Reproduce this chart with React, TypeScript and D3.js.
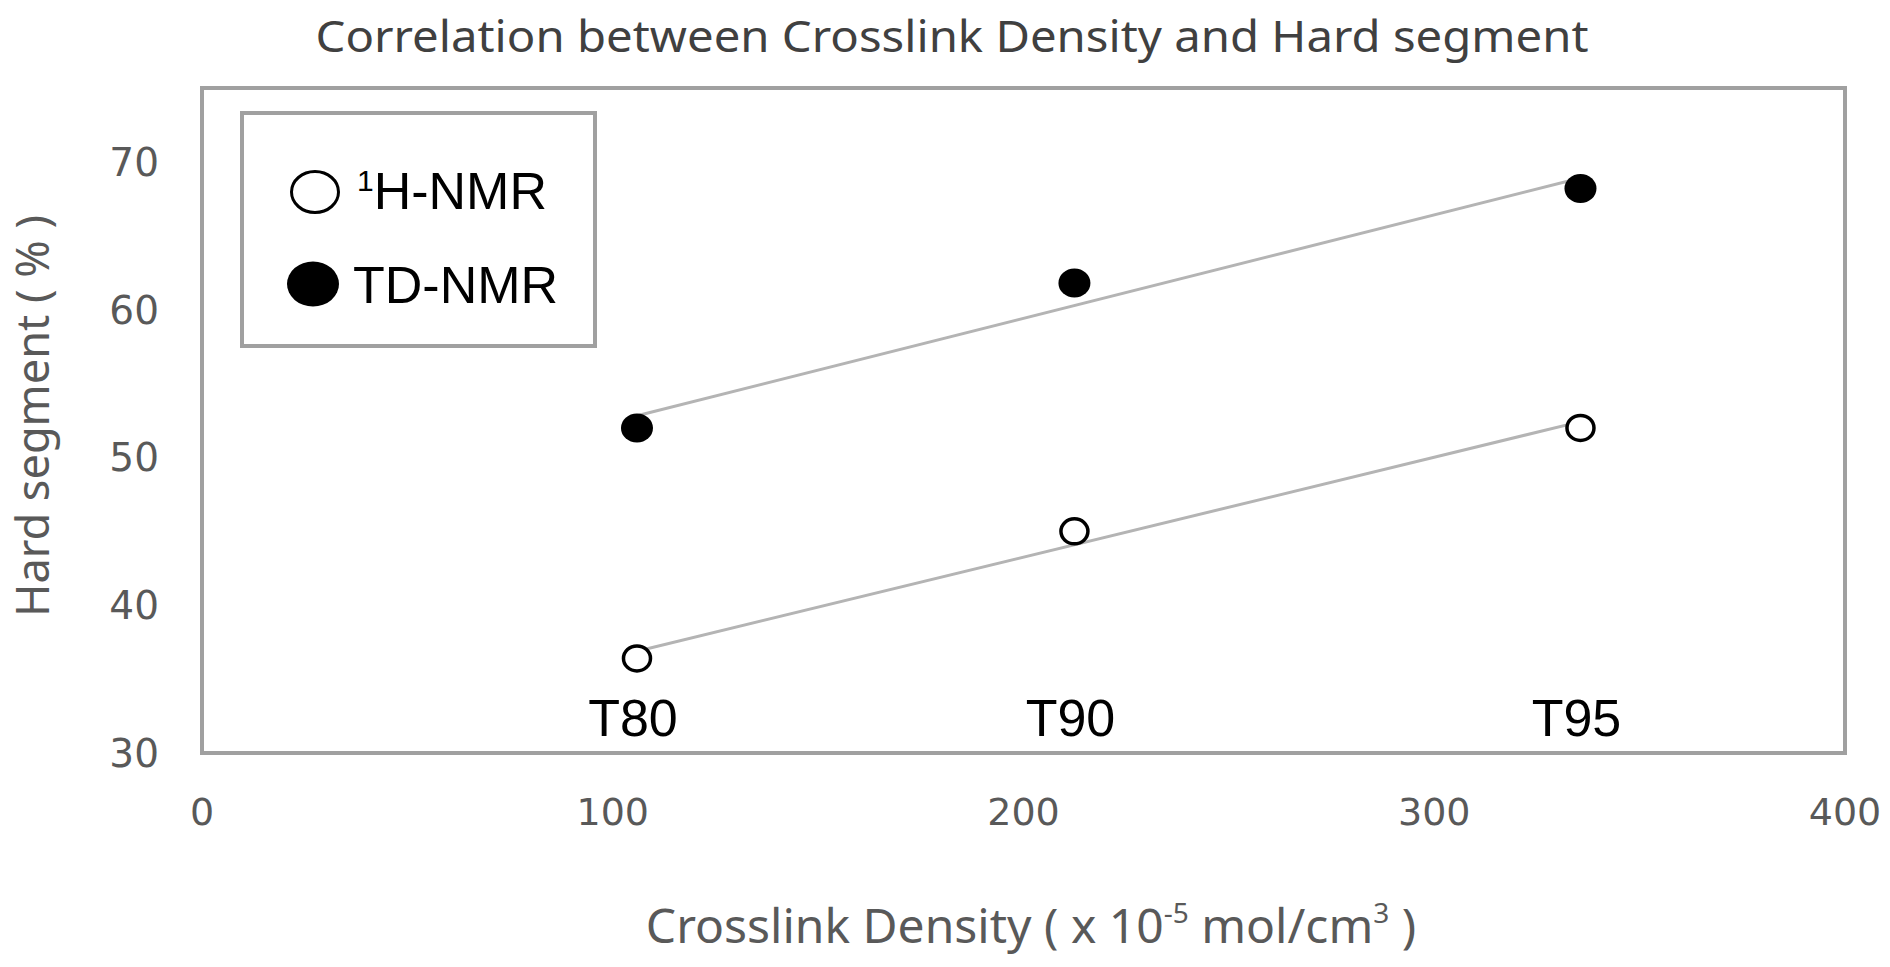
import React from "react";
import * as d3 from "d3";

const W = 1890;
const H = 967;

const titleText = "Correlation between Crosslink Density and Hard segment";
const sampleLabels = ["T80", "T90", "T95"];
const crosslinkDensity = [105.9, 212.4, 335.6];
const hNmr = [36.4, 45.0, 52.0];
const tdNmr = [52.0, 61.8, 68.2];
const xTicks = [0, 100, 200, 300, 400];
const yTicks = [30, 40, 50, 60, 70];
const xDomain: [number, number] = [0, 400];
const yDomain: [number, number] = [30, 75];

function fit(xs: number[], ys: number[]) {
  const mx = d3.mean(xs) as number;
  const my = d3.mean(ys) as number;
  const sxy = d3.sum(xs, (x, i) => (x - mx) * (ys[i] - my));
  const sxx = d3.sum(xs, (x) => (x - mx) * (x - mx));
  const b = sxy / sxx;
  const a = my - b * mx;
  return (x: number) => a + b * x;
}

export default function App() {
  const left = 202;
  const right = 1845;
  const top = 88;
  const bottom = 753;
  const x = d3.scaleLinear().domain(xDomain).range([left, right]);
  const y = d3.scaleLinear().domain(yDomain).range([bottom, top]);

  const series = [
    { name: "H", values: hNmr, filled: false },
    { name: "TD", values: tdNmr, filled: true },
  ];

  const boxStroke = "#a0a0a0";
  const tickFont = "'DejaVu Sans', sans-serif";
  const labelFont = "'Noto Sans', sans-serif";
  const xExt = d3.extent(crosslinkDensity) as [number, number];

  return (
    <svg
      width={W}
      height={H}
      style={{ position: "absolute", left: 0, top: 0, background: "#fff" }}
    >
      <rect x={0} y={0} width={W} height={H} fill="#fff" />
      <text
        x={952}
        y={52}
        textAnchor="middle"
        fontFamily={labelFont}
        fontSize={43}
        fill="#404040"
        textLength={1273}
        lengthAdjust="spacingAndGlyphs"
      >
        {titleText}
      </text>

      {/* plot box */}
      <rect
        x={left}
        y={top}
        width={right - left}
        height={bottom - top}
        fill="none"
        stroke={boxStroke}
        strokeWidth={4}
      />

      {/* y ticks */}
      {yTicks.map((t) => (
        <text
          key={"y" + t}
          x={159}
          y={y(t) + 14}
          textAnchor="end"
          fontFamily={tickFont}
          fontSize={39}
          fill="#595959"
        >
          {t}
        </text>
      ))}
      {/* x ticks */}
      {xTicks.map((t) => (
        <text
          key={"x" + t}
          x={x(t)}
          y={825}
          textAnchor="middle"
          fontFamily={tickFont}
          fontSize={38}
          fill="#595959"
        >
          {t}
        </text>
      ))}

      {/* axis titles */}
      <text
        x={1031}
        y={943}
        textAnchor="middle"
        fontFamily={labelFont}
        fontSize={48}
        fill="#595959"
      >
        <tspan>Crosslink Density ( x 10</tspan>
        <tspan fontSize={28} dy={-20}>-5</tspan>
        <tspan dy={20}> mol/cm</tspan>
        <tspan fontSize={28} dy={-20}>3</tspan>
        <tspan dy={20}> )</tspan>
      </text>
      <text
        transform={`translate(49,416) rotate(-90)`}
        textAnchor="middle"
        fontFamily={labelFont}
        fontSize={46}
        fill="#595959"
        textLength={402}
        lengthAdjust="spacingAndGlyphs"
      >
        Hard segment ( % )
      </text>

      {/* trendlines */}
      {series.map((s) => {
        const f = fit(crosslinkDensity, s.values);
        const pts = [xExt[0], xExt[1]];
        return (
          <path
            key={"t" + s.name}
            d={
              d3
                .line<number>()
                .x((d) => x(d))
                .y((d) => y(f(d)))(pts) as string
            }
            fill="none"
            stroke="#b4b4b4"
            strokeWidth={3}
          />
        );
      })}

      {/* points */}
      {series.map((s) =>
        s.values.map((v, i) => (
          <ellipse
            key={s.name + i}
            cx={x(crosslinkDensity[i])}
            cy={y(v)}
            rx={s.filled ? 16 : 13.5}
            ry={s.filled ? 14.5 : 12.5}
            fill={s.filled ? "#000" : "#fff"}
            stroke="#000"
            strokeWidth={s.filled ? 0 : 3.5}
          />
        ))
      )}

      {/* sample labels */}
      {sampleLabels.map((l, i) => (
        <text
          key={l}
          x={x(crosslinkDensity[i]) - 4}
          y={736}
          textAnchor="middle"
          fontFamily="'Liberation Sans', Arial, sans-serif"
          fontSize={52}
          fill="#000"
        >
          {l}
        </text>
      ))}

      {/* legend */}
      <rect
        x={242}
        y={113}
        width={353}
        height={233}
        fill="#fff"
        stroke={boxStroke}
        strokeWidth={4}
      />
      <ellipse cx={315} cy={192} rx={23.5} ry={20.5} fill="#fff" stroke="#000" strokeWidth={3} />
      <text
        x={357}
        y={209}
        fontFamily="'Liberation Sans', Arial, sans-serif"
        fontSize={52}
        fill="#000"
      >
        <tspan fontSize={30} dy={-18}>1</tspan>
        <tspan dy={18}>H-NMR</tspan>
      </text>
      <ellipse cx={313} cy={284} rx={26} ry={22.5} fill="#000" />
      <text
        x={353}
        y={303}
        fontFamily="'Liberation Sans', Arial, sans-serif"
        fontSize={52}
        fill="#000"
      >
        TD-NMR
      </text>
    </svg>
  );
}
